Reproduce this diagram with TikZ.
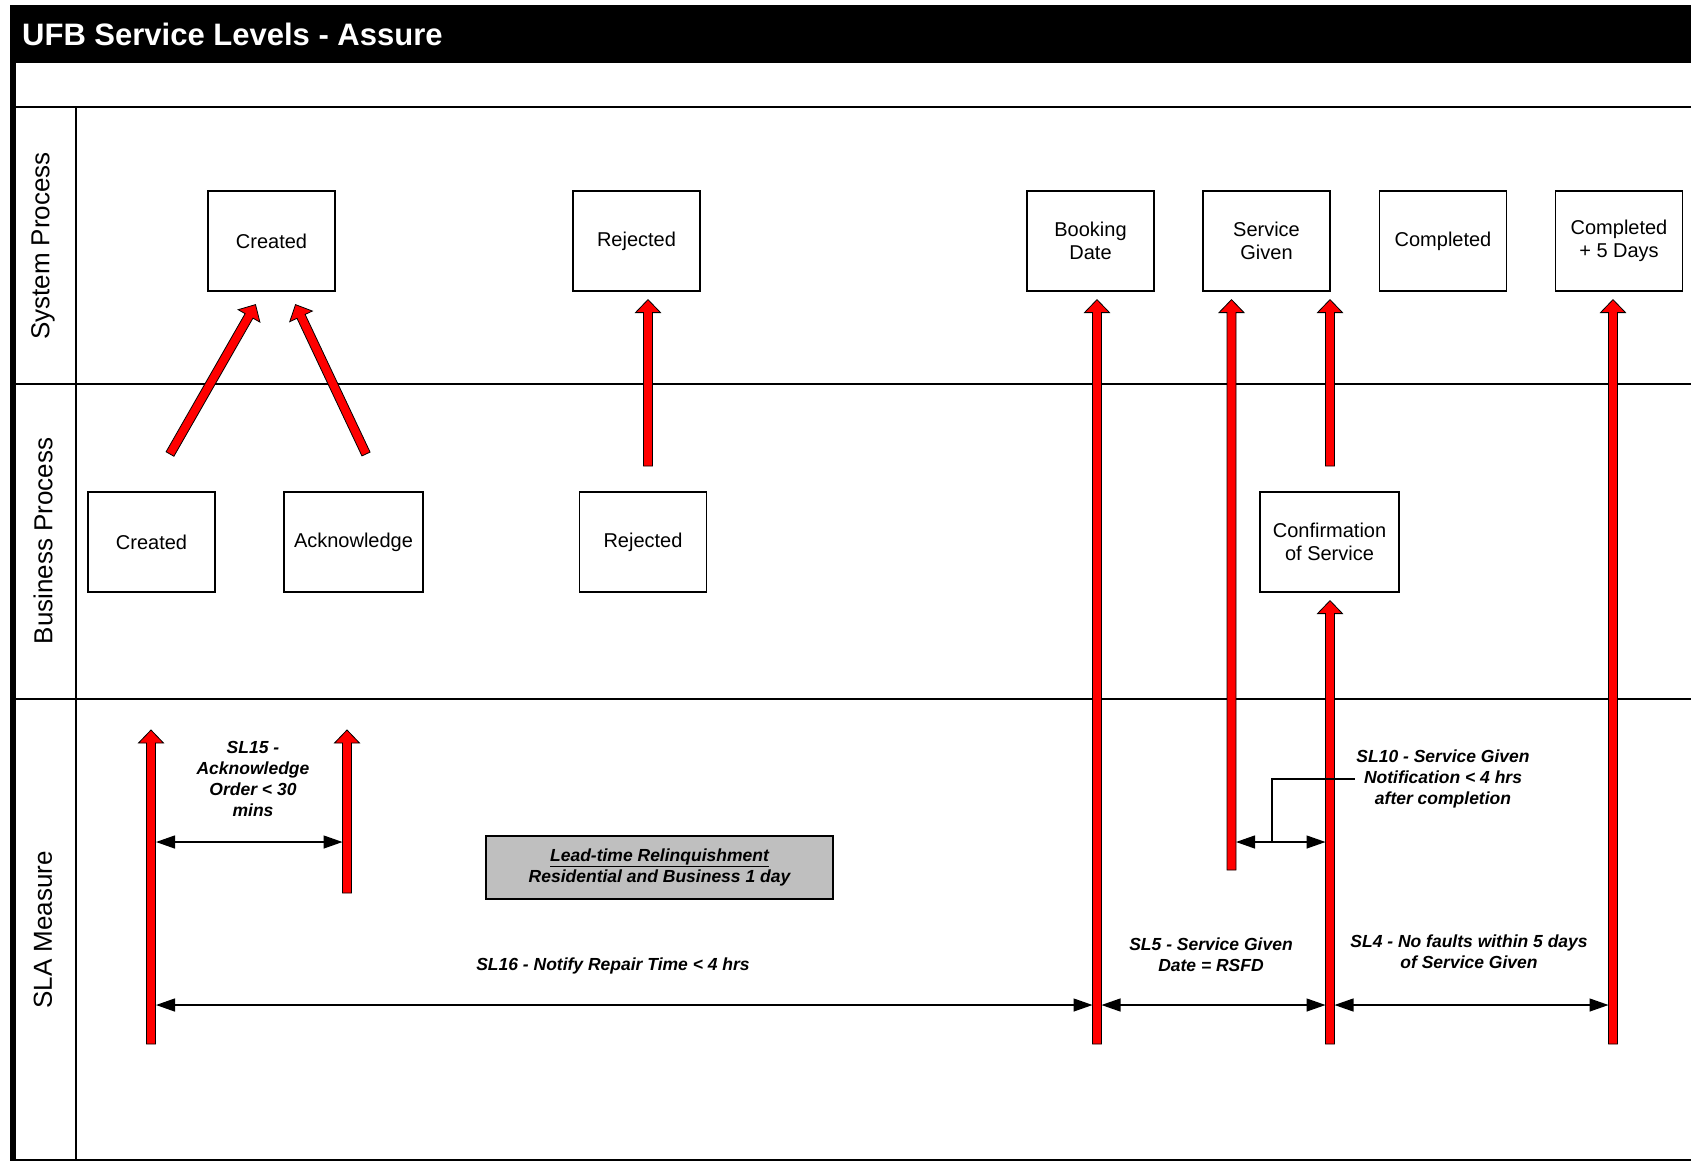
\documentclass[tikz,border=0pt]{standalone}
\usepackage{fontspec}
\setmainfont{Liberation Sans}
\usetikzlibrary{calc,arrows.meta,positioning}
\tikzstyle{procbox}=[rectangle, draw, line width=1.2pt, align=center, minimum width=127pt, minimum height=100pt, inner sep=2pt, font=\fontsize{20}{23}\selectfont]
\tikzstyle{lanelabel}=[rotate=90, inner sep=0pt, font=\fontsize{26}{30}\selectfont]
\tikzstyle{slalabel}=[align=center, inner sep=1pt, font=\fontsize{17.5}{21}\selectfont\bfseries\itshape]
\tikzstyle{greybox}=[rectangle, draw, fill=black!25, line width=1.2pt, align=center, minimum width=347pt, minimum height=63pt, font=\fontsize{17.5}{21}\selectfont\bfseries\itshape]
\tikzstyle{measure}=[{Triangle[length=19pt,width=13pt]}-{Triangle[length=19pt,width=13pt]}, line width=1.3pt]
\tikzstyle{laneline}=[line width=2pt]
\tikzstyle{redblock}=[fill=red, draw=black, line width=0.8pt, line join=miter]
\newcommand{\redarrow}[2]{
 \draw[redblock] let \p1=#1, \p2=#2, \n1={atan2(\y2-\y1,\x2-\x1)}, \n2={veclen(\x2-\x1,\y2-\y1)} in
  [shift={(\p1)}, rotate=\n1] (0pt,-4.5pt) -- (\n2*1pt-13pt,-4.5pt) -- (\n2*1pt-13pt,-12.5pt) -- (\n2*1pt,0pt)
  -- (\n2*1pt-13pt,12.5pt) -- (\n2*1pt-13pt,4.5pt) -- (0pt,4.5pt) -- cycle;}

\begin{document}
\begin{tikzpicture}[x=1pt, y=-1pt]
\useasboundingbox (0,0) rectangle (1691,1162);

% frame and lanes
\fill[black] (10,5) rectangle (1691,63);
\fill[black] (10,5) rectangle (16,1161);
\draw[laneline] (16,107) -- (1691,107);
\draw[laneline] (16,384) -- (1691,384);
\draw[laneline] (16,699) -- (1691,699);
\draw[laneline] (10,1160) -- (1691,1160);
\draw[line width=1.5pt] (76,107) -- (76,1160);

\node[anchor=base west, text=white, inner sep=0pt, font=\fontsize{31}{36}\selectfont\bfseries] (title) at (22,45) {UFB Service Levels - Assure};
\node[lanelabel] (laneSys) at (43,246) {System Process};
\node[lanelabel] (laneBus) at (43,541) {Business Process};
\node[lanelabel] (laneSla) at (43,930) {SLA Measure};

% system process
\node[procbox] (sCreated) at (271.5,241) {Created};
\node[procbox] (sRejected) at (636.5,241) {Rejected};
\node[procbox] (sBooking) at (1090.5,241) {Booking\\Date};
\node[procbox] (sService) at (1266.5,241) {Service\\Given};
\node[procbox] (sCompleted) at (1443,241) {Completed};
\node[procbox] (sCompleted5) at (1619,241) {Completed\\+ 5 Days};

% business process
\node[procbox] (bCreated) at (151.5,542) {Created};
\node[procbox, minimum width=139pt] (bAck) at (353.5,542) {Acknowledge};
\node[procbox] (bRejected) at (643,542) {Rejected};
\node[procbox, minimum width=139pt] (bConfirm) at (1329.5,542) {Confirmation\\of Service};

% sla measure
\node[greybox] (lead) at (659.5,867.5) {\underline{Lead-time Relinquishment}\\Residential and Business 1 day};
\node[slalabel] (sl15) at (253,779) {SL15 -\\Acknowledge\\Order < 30\\mins};
\node[slalabel] (sl16) at (613,966) {SL16 - Notify Repair Time < 4 hrs};
\node[slalabel] (sl5) at (1211,955) {SL5 - Service Given\\Date = RSFD};
\node[slalabel] (sl4) at (1469,952) {SL4 - No faults within 5 days\\of Service Given};
\node[slalabel] (sl10) at (1443,779) {SL10 - Service Given\\Notification < 4 hrs\\after completion};

% red arrows
\coordinate (crtTail) at (170,454);
\coordinate (ackTail) at (366,454);
\coordinate (rejTail) at (648,466);
\coordinate (bookTail) at (1097,1044);
\coordinate (sgTail) at (1231.5,870);
\coordinate (cfUp) at (1330,466);
\coordinate (cfTail) at (1330,1044);
\coordinate (c5Tail) at (1613,1044);
\coordinate (slA) at (151,1044);
\coordinate (slAtip) at (151,730);
\coordinate (slB) at (347,893);
\coordinate (slBtip) at (347,730);

\redarrow{(crtTail)}{($(sCreated.south)+(-16,13)$)}
\redarrow{(ackTail)}{($(sCreated.south)+(24,13)$)}
\redarrow{(rejTail)}{($(sRejected.south -| rejTail)+(0,8)$)}
\redarrow{(bookTail)}{($(sBooking.south -| bookTail)+(0,8)$)}
\redarrow{(sgTail)}{($(sService.south -| sgTail)+(0,8)$)}
\redarrow{(cfUp)}{($(sService.south -| cfUp)+(0,8)$)}
\redarrow{(cfTail)}{($(bConfirm.south -| cfTail)+(0,8)$)}
\redarrow{(c5Tail)}{($(sCompleted5.south -| c5Tail)+(0,8)$)}
\redarrow{(slA)}{(slAtip)}
\redarrow{(slB)}{(slBtip)}

% measures
\coordinate (m15a) at (156,842);
\coordinate (m15b) at (342.5,842);
\coordinate (m16a) at (156,1005);
\coordinate (m16b) at (1092.5,1005);
\coordinate (m5a) at (1101.5,1005);
\coordinate (m5b) at (1325.5,1005);
\coordinate (m4a) at (1334.5,1005);
\coordinate (m4b) at (1608.5,1005);
\coordinate (m10a) at (1236,842);
\coordinate (m10b) at (1325.5,842);
\coordinate (m10c) at (1272,842);

\draw[measure] (m15a) -- (m15b);
\draw[measure] (m16a) -- (m16b);
\draw[measure] (m5a) -- (m5b);
\draw[measure] (m4a) -- (m4b);
\draw[measure] (m10a) -- (m10b);
\draw[line width=1.3pt] (m10c) |- (sl10.west);

\end{tikzpicture}
\end{document}
